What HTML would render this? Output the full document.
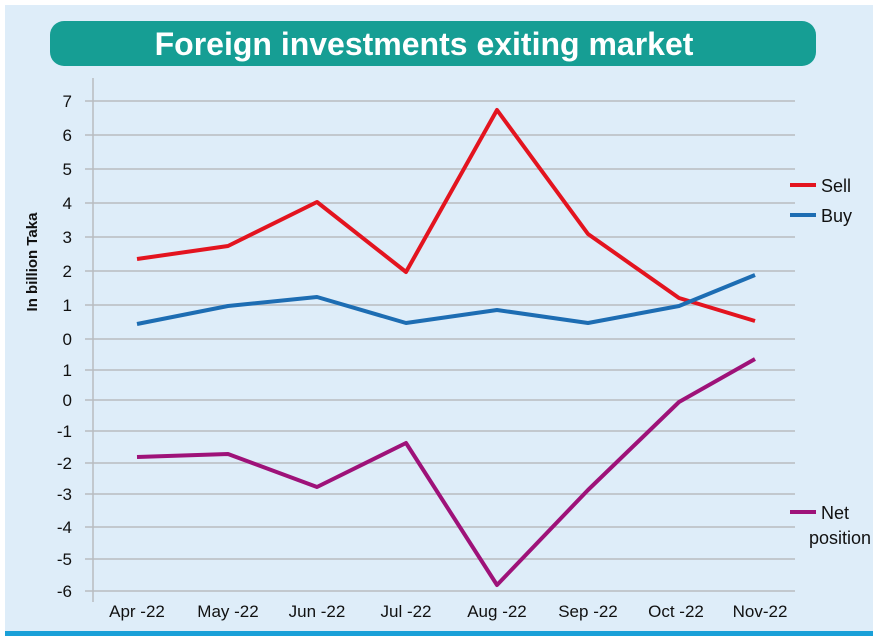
<!DOCTYPE html>
<html><head><style>
body{margin:0;background:#fff;}
svg{display:block;font-family:"Liberation Sans",sans-serif;}
</style></head><body>
<svg width="876" height="638" viewBox="0 0 876 638">
<rect x="0" y="0" width="876" height="638" fill="#fff"/>
<rect x="5" y="5" width="868" height="630" fill="#deedf9"/>
<rect x="5" y="631" width="868" height="5" fill="#1aa0d8"/>
<rect x="50" y="21" width="766" height="45" rx="14" fill="#169e94"/>
<text x="424" y="55" text-anchor="middle" font-size="32" font-weight="bold" fill="#fff">Foreign investments exiting market</text>
<g stroke="#b8bcc0" stroke-width="1.5">
<line x1="85" x2="795" y1="101" y2="101"/><line x1="85" x2="795" y1="135" y2="135"/>
<line x1="85" x2="795" y1="169" y2="169"/><line x1="85" x2="795" y1="203" y2="203"/>
<line x1="85" x2="795" y1="237" y2="237"/><line x1="85" x2="795" y1="271" y2="271"/>
<line x1="85" x2="795" y1="305" y2="305"/><line x1="85" x2="795" y1="339" y2="339"/>
<line x1="85" x2="795" y1="370" y2="370"/><line x1="85" x2="795" y1="400" y2="400"/>
<line x1="85" x2="795" y1="431" y2="431"/><line x1="85" x2="795" y1="463" y2="463"/>
<line x1="85" x2="795" y1="494" y2="494"/><line x1="85" x2="795" y1="527" y2="527"/>
<line x1="85" x2="795" y1="559" y2="559"/><line x1="85" x2="795" y1="591" y2="591"/>
<line x1="93" x2="93" y1="78" y2="602"/>
</g>
<g font-size="17" fill="#111" text-anchor="end">
<text x="72" y="107">7</text><text x="72" y="141">6</text><text x="72" y="175">5</text>
<text x="72" y="209">4</text><text x="72" y="243">3</text><text x="72" y="277">2</text>
<text x="72" y="311">1</text><text x="72" y="345">0</text><text x="72" y="376">1</text>
<text x="72" y="406">0</text><text x="72" y="437">-1</text><text x="72" y="469">-2</text>
<text x="72" y="500">-3</text><text x="72" y="533">-4</text><text x="72" y="565">-5</text>
<text x="72" y="597">-6</text>
</g>
<text transform="translate(37,262) rotate(-90)" text-anchor="middle" font-size="15" font-weight="bold" fill="#111">In billion Taka</text>
<g font-size="17" fill="#111" text-anchor="middle">
<text x="137" y="617">Apr -22</text><text x="228" y="617">May -22</text><text x="317" y="617">Jun -22</text>
<text x="406" y="617">Jul -22</text><text x="497" y="617">Aug -22</text><text x="588" y="617">Sep -22</text>
<text x="676" y="617">Oct -22</text><text x="760" y="617">Nov-22</text>
</g>
<g fill="none" stroke-width="4" stroke-linejoin="round">
<polyline stroke="#e3141f" points="137,259 228,246 317,202 406,272 497,110 588,234 679,298 755,321"/>
<polyline stroke="#1d6db3" points="137,324 228,306 317,297 406,323 497,310 588,323 679,306 755,275"/>
<polyline stroke="#9e1279" points="137,457 228,454 317,487 406,443 497,585 588,490 679,402 755,359"/>
</g>
<g stroke-width="4">
<line x1="790" x2="816" y1="185" y2="185" stroke="#e3141f"/>
<line x1="790" x2="816" y1="215" y2="215" stroke="#1d6db3"/>
<line x1="790" x2="816" y1="512" y2="512" stroke="#9e1279"/>
</g>
<g font-size="18" fill="#111">
<text x="821" y="192">Sell</text><text x="821" y="222">Buy</text>
<text x="821" y="519">Net</text><text x="809" y="544">position</text>
</g>
</svg>
</body></html>
